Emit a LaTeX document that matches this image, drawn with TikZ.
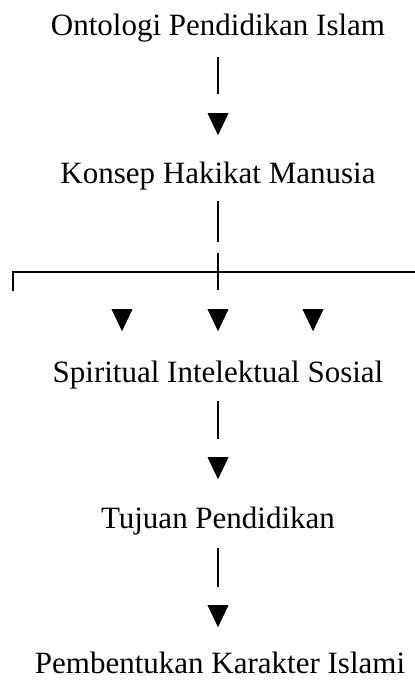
\documentclass[tikz,border=0pt]{standalone}
\usepackage{fontspec}
\setmainfont{Liberation Serif}
\usetikzlibrary{shapes.geometric}

\begin{document}
\begin{tikzpicture}[x=1pt, y=-1pt,
	caption/.style={inner sep=0, anchor=base, text height=22pt, text depth=8pt, font=\fontsize{31}{37}\selectfont},
	arrowHead/.style={isosceles triangle, isosceles triangle stretches, shape border rotate=-90, minimum width=21pt, minimum height=22pt, inner sep=0, fill=black, anchor=north},
	link/.style={line width=2pt}]
	\useasboundingbox (0,0) rectangle (415,681);
	\node[caption] (ontologi) at (218,35) {Ontologi Pendidikan Islam};
	\node[arrowHead] (headOntologi) at (218,113) {};
	\node[caption] (konsep) at (218,183) {Konsep Hakikat Manusia};
	\coordinate (fork) at (218,272);
	\coordinate (barL) at (13,272);
	\coordinate (barR) at (415,272);
	\node[arrowHead] (headSpiritual) at (122,309) {};
	\node[arrowHead] (headIntelektual) at (218,309) {};
	\node[arrowHead] (headSosial) at (313,309) {};
	\node[caption] (aspek) at (218,382) {Spiritual Intelektual Sosial};
	\node[arrowHead] (headTujuan) at (218,457) {};
	\node[caption] (tujuan) at (218,528) {Tujuan Pendidikan};
	\node[arrowHead] (headKarakter) at (218,605) {};
	\node[caption] (karakter) at (220,673) {Pembentukan Karakter Islami};

	\draw[link, shorten <=14pt, shorten >=19pt] (ontologi) -- (headOntologi);
	\draw[link, shorten <=10pt, shorten >=30pt] (konsep) -- (fork);
	\draw[link, shorten >=19pt] ([yshift=19pt]fork) -- (headIntelektual);
	\draw[link] ([yshift=-19pt]barL) -- (barL) -- (barR);
	\draw[link, shorten <=11pt, shorten >=18pt] (aspek) -- (headTujuan);
	\draw[link, shorten <=12pt, shorten >=18pt] (tujuan) -- (headKarakter);
\end{tikzpicture}
\end{document}
